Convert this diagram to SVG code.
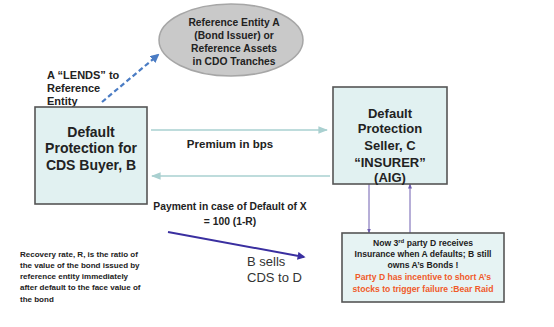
<svg xmlns="http://www.w3.org/2000/svg" width="554" height="327" viewBox="0 0 554 327">
<defs>
<style>
text{font-family:"Liberation Sans",Arial,sans-serif;font-weight:bold;fill:#222;}
.c{text-anchor:middle;}
.box{fill:#e1f1f1;stroke:#555;stroke-width:1.6;}
.teal{stroke:#a9d0d0;stroke-width:1.6;fill:none;}
.red{fill:#f05a2a;}
</style>
<marker id="mTeal" viewBox="0 0 10 10" refX="9" refY="5" markerWidth="6" markerHeight="6" orient="auto-start-reverse"><path d="M0,1 L10,5 L0,9 z" fill="#a9d0d0"/></marker>
<marker id="mBlue" viewBox="0 0 10 10" refX="8" refY="5" markerWidth="4" markerHeight="4" orient="auto"><path d="M0,0 L10,5 L0,10 z" fill="#4a7cc4"/></marker>
<marker id="mPurple" viewBox="0 0 10 10" refX="8" refY="5" markerWidth="4" markerHeight="4" orient="auto"><path d="M0,0 L10,5 L0,10 z" fill="#3a2fa0"/></marker>
<marker id="mThin" viewBox="0 0 10 10" refX="9" refY="5" markerWidth="5" markerHeight="5" orient="auto"><path d="M0,1 L10,5 L0,9 z" fill="#6e5eb0"/></marker>
</defs>
<rect width="554" height="327" fill="#fff"/>

<g id="connectors">
<line class="teal" x1="151" y1="130" x2="327" y2="130" marker-end="url(#mTeal)"/>
<line class="teal" x1="330" y1="176" x2="152" y2="176" marker-end="url(#mTeal)"/>
<line x1="102" y1="102" x2="158" y2="55" stroke="#4a7cc4" stroke-width="2.2" stroke-dasharray="5 3" marker-end="url(#mBlue)"/>
<line x1="168" y1="232" x2="304" y2="257" stroke="#3a2fa0" stroke-width="2" marker-end="url(#mPurple)"/>
<line x1="369" y1="184" x2="369" y2="233" stroke="#6e5eb0" stroke-width="1" marker-end="url(#mThin)"/>
<line x1="410" y1="233" x2="410" y2="184" stroke="#6e5eb0" stroke-width="1" marker-end="url(#mThin)"/>
</g>

<g id="refEntity">
<ellipse cx="231" cy="40" rx="72" ry="36" fill="#c9c9c9" stroke="#a6a6a6" stroke-width="1.5"/>
<text class="c" x="234" y="26" font-size="10.3">Reference Entity A</text>
<text class="c" x="234" y="39" font-size="10.3">(Bond Issuer) or</text>
<text class="c" x="234" y="52" font-size="10.3">Reference Assets</text>
<text class="c" x="234" y="65" font-size="10.3">in CDO Tranches</text>
</g>

<g id="lendsLabel">
<text x="47" y="79" font-size="11">A “LENDS” to</text>
<text x="47" y="92" font-size="11">Reference</text>
<text x="47" y="105" font-size="11">Entity</text>
</g>

<g id="buyerB">
<rect class="box" x="35" y="107" width="112" height="97"/>
<text class="c" x="91" y="137" font-size="14">Default</text>
<text class="c" x="91" y="153" font-size="14">Protection for</text>
<text class="c" x="91" y="170" font-size="14">CDS Buyer, B</text>
</g>

<g id="sellerC">
<rect class="box" x="333" y="87" width="114" height="97"/>
<text class="c" x="390" y="118" font-size="13">Default</text>
<text class="c" x="390" y="133" font-size="13">Protection</text>
<text class="c" x="390" y="150" font-size="13">Seller, C</text>
<text class="c" x="390" y="167" font-size="13">“INSURER”</text>
<text class="c" x="390" y="182" font-size="13">(AIG)</text>
</g>

<g id="premiumLabel">
<text class="c" x="230" y="148" font-size="11.5">Premium in bps</text>
</g>

<g id="paymentLabel">
<text class="c" x="230" y="210" font-size="10.3">Payment in case of Default of X</text>
<text class="c" x="230" y="225" font-size="10.3">= 100  (1-R)</text>
</g>

<g id="bSellsLabel">
<text x="247" y="266" font-size="13" style="font-weight:normal;fill:#333">B sells</text>
<text x="247" y="282" font-size="13" style="font-weight:normal;fill:#333">CDS to D</text>
</g>

<g id="recoveryNote">
<text x="20" y="257" font-size="8">Recovery rate, R, is the ratio of</text>
<text x="20" y="268" font-size="8">the value  of the bond issued by</text>
<text x="20" y="279" font-size="8">reference entity immediately</text>
<text x="20" y="290" font-size="8">after default to the face value of</text>
<text x="20" y="302" font-size="8">the bond</text>
</g>

<g id="partyD">
<rect class="box" x="342" y="233" width="162" height="69" style="fill:#e6f3f3"/>
<text class="c" x="423" y="246" font-size="8.6">Now 3<tspan font-size="6" dy="-3">rd</tspan><tspan dy="3"> party D receives</tspan></text>
<text class="c" x="423" y="257" font-size="8.6">Insurance when A defaults; B still</text>
<text class="c" x="423" y="268" font-size="8.6">owns A’s Bonds  !</text>
<text class="c red" x="423" y="280" font-size="8.6">Party D has incentive to short A’s</text>
<text class="c red" x="423" y="292" font-size="8.6">stocks to trigger failure :Bear Raid</text>
</g>
</svg>
